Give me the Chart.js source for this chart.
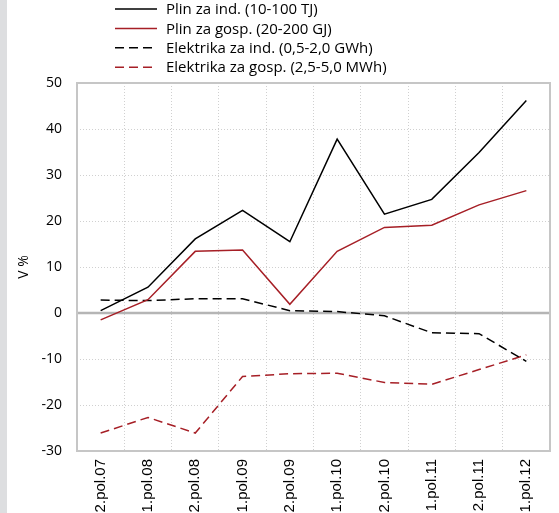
<!DOCTYPE html>
<html>
<head>
<meta charset="utf-8">
<script src="https://cdn.jsdelivr.net/npm/chart.js@4/dist/chart.umd.min.js"></script>
<style>
    body { margin: 0; background: #fff; }
    #wrap { width: 552px; height: 513px; border-left: 7px solid #dddee0; }
</style>
</head>
<body>
<div id="wrap"><canvas id="priceChart" width="552" height="513"></canvas></div>
<script>
// Half-year periods
const periods = ['2.pol.07', '1.pol.08', '2.pol.08', '1.pol.09', '2.pol.09',
                 '1.pol.10', '2.pol.10', '1.pol.11', '2.pol.11', '1.pol.12'];

// Changes in %
const plinInd = [0.5, 5.6, 16.1, 22.3, 15.5, 37.8, 21.5, 24.7, 34.9, 46.2];
const plinGosp = [-1.5, 2.9, 13.4, 13.7, 1.9, 13.4, 18.6, 19.1, 23.5, 26.6];
const elektrikaInd = [2.8, 2.7, 3.1, 3.1, 0.5, 0.3, -0.6, -4.3, -4.5, -10.5];
const elektrikaGosp = [-26.1, -22.7, -26.1, -13.8, -13.2, -13.1, -15.1, -15.5, -12.3, -9.1];

const yTicks = [50, 40, 30, 20, 10, 0, -10, -20, -30];

const RED = '#a61f26';
const FONT = '"Open Sans", "Noto Sans", sans-serif';
const XFONT = '"Liberation Sans", Arial, sans-serif';

// Stacked legend plus plot frame and zero line
const framePlugin = {
    id: 'frame',
    beforeDatasetsDraw(chart) {
        const ctx = chart.ctx;
        const a = chart.chartArea;
        const y0 = chart.scales.y.getPixelForValue(0);
        ctx.save();
        ctx.strokeStyle = '#b5b5b5';
        ctx.lineWidth = 2.5;
        ctx.beginPath();
        ctx.moveTo(a.left, y0);
        ctx.lineTo(a.right, y0);
        ctx.stroke();
        ctx.strokeStyle = '#c6c6c6';
        ctx.lineWidth = 2;
        ctx.strokeRect(a.left, a.top, a.right - a.left, a.bottom - a.top);
        ctx.restore();
    },
    afterDraw(chart) {
        const ctx = chart.ctx;
        ctx.save();
        ctx.font = '15px ' + FONT;
        ctx.textBaseline = 'middle';
        ctx.fillStyle = '#000';
        chart.data.datasets.forEach((ds, i) => {
            const y = 9 + i * 19.4;
            ctx.strokeStyle = ds.borderColor;
            ctx.lineWidth = 1.5;
            ctx.setLineDash(ds.borderDash || []);
            ctx.beginPath();
            ctx.moveTo(108, y);
            ctx.lineTo(150, y);
            ctx.stroke();
            ctx.setLineDash([]);
            ctx.fillText(ds.label, 159, y + 1);
        });
        ctx.restore();
    }
};

new Chart(document.getElementById('priceChart'), {
    type: 'line',
    data: {
        labels: periods,
        datasets: [
            {
                label: 'Plin za ind. (10-100 TJ)',
                data: plinInd,
                borderColor: '#000000',
                borderWidth: 1.5
            },
            {
                label: 'Plin za gosp. (20-200 GJ)',
                data: plinGosp,
                borderColor: RED,
                borderWidth: 1.5
            },
            {
                label: 'Elektrika za ind. (0,5-2,0 GWh)',
                data: elektrikaInd,
                borderColor: '#000000',
                borderWidth: 1.5,
                borderDash: [9, 5]
            },
            {
                label: 'Elektrika za gosp. (2,5-5,0 MWh)',
                data: elektrikaGosp,
                borderColor: RED,
                borderWidth: 1.5,
                borderDash: [9, 5]
            }
        ]
    },
    options: {
        responsive: false,
        animation: false,
        layout: {
            padding: { top: 83, right: 9, left: 0, bottom: 0 }
        },
        elements: {
            point: { radius: 0 },
            line: { tension: 0, fill: false }
        },
        scales: {
            x: {
                offset: true,
                grid: {
                    offset: true,
                    color: '#d0d0d0',
                    drawTicks: false
                },
                border: { display: false, dash: [1, 2] },
                ticks: {
                    minRotation: 90,
                    maxRotation: 90,
                    padding: 8,
                    color: '#000',
                    font: { family: XFONT, size: 15 }
                },
                afterFit(scale) { scale.height = 62; }
            },
            y: {
                min: -30,
                max: 50,
                afterBuildTicks(scale) {
                    scale.ticks = yTicks.map(v => ({ value: v }));
                },
                grid: {
                    color: '#d0d0d0',
                    drawTicks: false
                },
                border: { display: false, dash: [1, 2] },
                ticks: {
                    padding: 15,
                    color: '#000',
                    font: { family: FONT, size: 14 }
                },
                title: {
                    display: true,
                    text: 'V %',
                    color: '#000',
                    padding: { top: 9, bottom: 0 },
                    font: { family: FONT, size: 14 }
                },
                afterFit(scale) { scale.width = 70; }
            }
        },
        plugins: {
            legend: { display: false },
            tooltip: { enabled: false }
        }
    },
    plugins: [framePlugin]
});
</script>
</body>
</html>
